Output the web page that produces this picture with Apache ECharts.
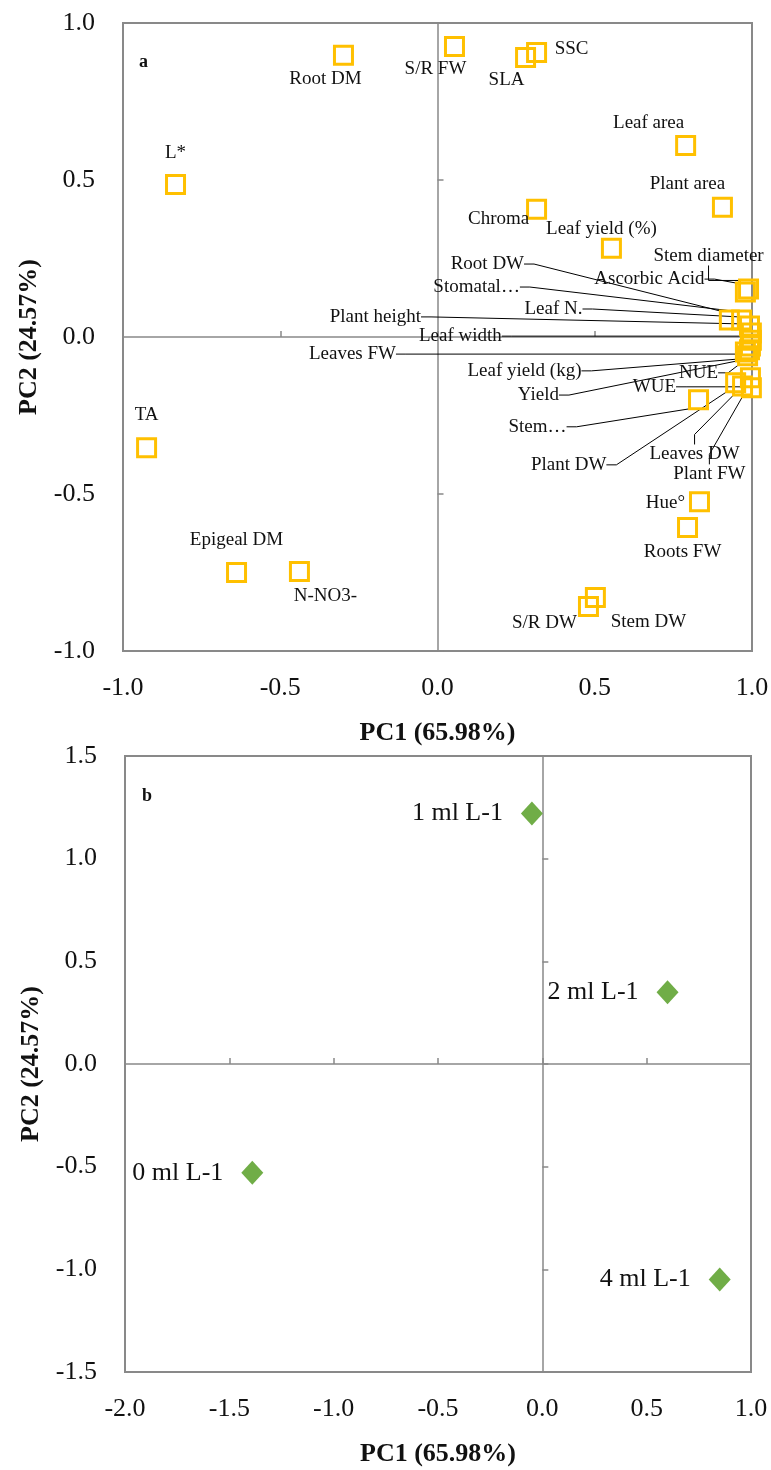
<!DOCTYPE html>
<html>
<head>
<meta charset="utf-8">
<script src="https://cdn.jsdelivr.net/npm/echarts@6/dist/echarts.min.js"></script>
<style>
html,body{margin:0;padding:0;background:#fff}
#c{width:771px;height:1470px}
</style>
</head>
<body>
<div id="c"></div>
<script>
// ---- Panel a: variable loadings ----
const varNames = ['Root DM','S/R FW','SLA','SSC','L*','Leaf area','Plant area','Chroma','Leaf yield (%)',
  'Stem diameter','Ascorbic Acid','Root DW','Stomatal…','Leaf N.','Plant height','Leaf width','Leaves FW',
  'Leaf yield (kg)','Yield','NUE','WUE','Stem…','Plant DW','Leaves DW','Plant FW',
  'Hue°','Roots FW','S/R DW','Stem DW','TA','Epigeal DM','N-NO3-'];
const pc1Loadings = [-0.299,0.054,0.280,0.315,-0.833,0.789,0.906,0.315,0.553,
  0.989,0.979,0.928,0.967,0.992,0.998,0.998,0.995,
  0.992,0.979,0.986,0.995,0.830,0.948,0.970,0.998,
  0.833,0.795,0.480,0.502,-0.925,-0.639,-0.439];
const pc2Loadings = [0.897,0.925,0.890,0.906,0.486,0.610,0.413,0.407,0.283,
  0.153,0.143,0.054,0.054,0.035,0.013,-0.010,-0.029,
  -0.041,-0.048,-0.060,-0.130,-0.200,-0.146,-0.156,-0.162,
  -0.525,-0.607,-0.858,-0.830,-0.353,-0.750,-0.747];

// label placement (pixel offsets of label centre from its point) and leader-line flags
const labelDx = [-18,-19,-19,35,0,-37,-35,-38,-10,
  -40,-96,-242,-265,-196,-376,-291,-398,
  -225,-207,-49,-96,-161,-167,-48,-42,
  -34,-5,-44,53,0,0,26];
const labelDy = [24,22,22,-4,-31,-22,-23,10,-19,
  -33,-13,-56,-33,-17,-16,-4,8,
  21,43,17,9,27,82,68,86,
  1,24,17,24,-33,-32,24];
const hasLeader = [0,0,0,0,0,0,0,0,0,
  1,1,1,1,1,1,1,1,
  1,1,1,1,1,1,1,1,
  0,0,0,0,0,0,0];
const leaderStub = [0,0,0,0,0,0,0,0,0,
  15,10,10,10,10,10,10,10,
  10,10,10,10,10,10,10,10,
  0,0,0,0,0,0,0];

// ---- Panel b: treatment scores ----
const treatments = ['0 ml L-1','1 ml L-1','2 ml L-1','4 ml L-1'];
const pc1Scores = [-1.39,-0.05,0.60,0.85];
const pc2Scores = [-0.53,1.22,0.35,-1.05];

const xName = 'PC1 (65.98%)';
const yName = 'PC2 (24.57%)';

const FONT = 'Liberation Serif';
const GRAY = '#898989';
const TXT = '#111';

function fmt(v){ return v.toFixed(1); }

function labelX(gi, min, max){
  return {
    type:'value', gridIndex:gi, min:min, max:max, interval:0.5,
    name:xName, nameLocation:'middle', nameGap:69,
    nameTextStyle:{fontFamily:FONT, fontSize:26, fontWeight:'bold', color:TXT},
    axisLine:{show:false, onZero:false}, axisTick:{show:false}, splitLine:{show:false},
    axisLabel:{show:true, margin:24, formatter:fmt, fontFamily:FONT, fontSize:26, color:TXT}
  };
}
function labelY(gi, min, max){
  return {
    type:'value', gridIndex:gi, min:min, max:max, interval:0.5,
    name:yName, nameLocation:'middle', nameGap:81, nameRotate:90,
    nameTextStyle:{fontFamily:FONT, fontSize:26, fontWeight:'bold', color:TXT},
    axisLine:{show:false, onZero:false}, axisTick:{show:false}, splitLine:{show:false},
    axisLabel:{show:true, margin:28, formatter:fmt, fontFamily:FONT, fontSize:26, color:TXT}
  };
}
function zeroAxis(gi, min, max){
  return {
    type:'value', gridIndex:gi, min:min, max:max, interval:0.5,
    axisLine:{show:true, onZero:true, lineStyle:{color:GRAY, width:1.5}},
    axisTick:{show:true, length:6, lineStyle:{color:GRAY, width:1.5}},
    axisLabel:{show:false}, splitLine:{show:false}
  };
}

const loadData = varNames.map((n,i)=>({
  name:n, value:[pc1Loadings[i], pc2Loadings[i]],
  labelLine:{show: hasLeader[i]===1, length2: leaderStub[i]}
}));
const scoreData = treatments.map((n,i)=>({name:n, value:[pc1Scores[i], pc2Scores[i]]}));

const chart = echarts.init(document.getElementById('c'), null, {renderer:'canvas'});
chart.setOption({
  animation:false,
  backgroundColor:'#fff',
  grid:[
    {left:123, right:19, top:23, height:628, show:true, borderColor:GRAY, borderWidth:2, containLabel:false, outerBoundsMode:'none'},
    {left:125, right:20, top:756, height:616, show:true, borderColor:GRAY, borderWidth:2, containLabel:false, outerBoundsMode:'none'}
  ],
  xAxis:[
    labelX(0,-1,1), zeroAxis(0,-1,1),
    labelX(1,-2,1), zeroAxis(1,-2,1)
  ],
  yAxis:[
    labelY(0,-1,1), zeroAxis(0,-1,1),
    labelY(1,-1.5,1.5), zeroAxis(1,-1.5,1.5)
  ],
  graphic:[
    {type:'text', left:139, top:53, style:{text:'a', fontFamily:FONT, fontSize:18, fontWeight:'bold', fill:TXT}},
    {type:'text', left:142, top:787, style:{text:'b', fontFamily:FONT, fontSize:18, fontWeight:'bold', fill:TXT}}
  ],
  series:[
    {
      type:'scatter', xAxisIndex:0, yAxisIndex:0,
      symbol:'rect', symbolSize:18,
      itemStyle:{color:'rgba(0,0,0,0)', borderColor:'#FFC000', borderWidth:3, opacity:1},
      emphasis:{disabled:true},
      label:{show:true, formatter:'{b}', fontFamily:FONT, fontSize:19, color:TXT, opacity:1},
      labelLine:{show:true, length2:10, minTurnAngle:0, lineStyle:{color:'#000', width:1, opacity:1}},
      labelLayout:function(p){
        const i = p.dataIndex;
        const cx = p.rect.x + p.rect.width/2;
        const cy = p.rect.y + p.rect.height/2;
        return {x: cx + labelDx[i], y: cy + labelDy[i], align:'center', verticalAlign:'middle'};
      },
      data:loadData
    },
    {
      type:'scatter', xAxisIndex:2, yAxisIndex:2,
      symbol:'diamond', symbolSize:[22,24],
      itemStyle:{color:'#70AD47', opacity:1},
      emphasis:{disabled:true},
      label:{show:true, position:'left', distance:18, formatter:'{b}', fontFamily:FONT, fontSize:26, color:TXT, opacity:1},
      data:scoreData
    }
  ]
});
</script>
</body>
</html>
